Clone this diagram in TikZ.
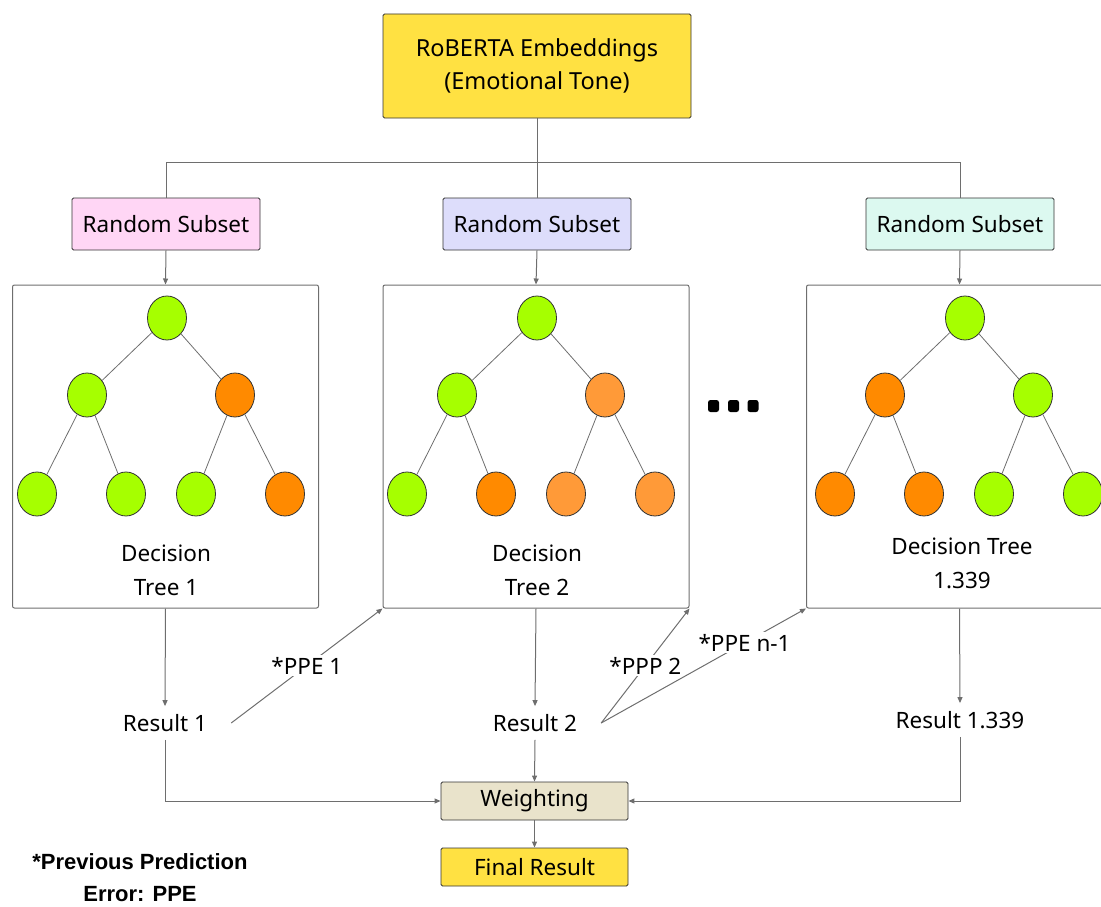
\documentclass[tikz,border=0pt]{standalone}
\usepackage{fontspec}
\setmainfont{Noto Sans}
\newfontfamily\notefont{Liberation Sans}
\usetikzlibrary{arrows.meta,positioning,shapes.geometric,calc}

\definecolor{ybox}{HTML}{FFE142}
\definecolor{pinkbox}{HTML}{FFD6F5}
\definecolor{lavbox}{HTML}{DDDDFB}
\definecolor{mintbox}{HTML}{DCF9F0}
\definecolor{beigebox}{HTML}{E9E3CB}
\definecolor{lime}{HTML}{A6FF00}
\definecolor{deeporange}{HTML}{FF8A00}
\definecolor{softorange}{HTML}{FF9A38}
\definecolor{linegray}{HTML}{6E6E6E}

\begin{document}
\begin{tikzpicture}[x=1pt,y=-1pt,
  every node/.style={font=\fontsize{22.5}{34}\selectfont},
  box/.style={draw=black!80,rounded corners=1.5pt,line width=0.9pt,
    inner sep=0pt,minimum height=52pt,align=center},
  treebox/.style={draw=linegray,rounded corners=2pt,line width=1pt,
    minimum width=306pt,minimum height=323pt},
  ball/.style={ellipse,draw=black!80,line width=0.8pt,
    minimum width=39pt,minimum height=44pt,inner sep=0pt},
  edge/.style={draw=linegray,line width=0.8pt},
  link/.style={draw=linegray,line width=1pt},
  arr/.style={link,-{Triangle[length=6pt,width=5pt]}},
  result/.style={inner xsep=24pt,inner ysep=8pt},
  ppe/.style={fill=white,inner sep=2pt}]

\useasboundingbox (0,0) rectangle (1101,907);

% embeddings and subsets
\node[box,fill=ybox,minimum width=308pt,minimum height=104pt,
  font=\fontsize{23.5}{33}\selectfont] (emb) at (537,66)
  {RoBERTA Embeddings\\(Emotional Tone)};
\node[box,fill=pinkbox,minimum width=188pt] (sub1) at (166,224) {Random Subset};
\node[box,fill=lavbox,minimum width=188pt] (sub2) at (537,224) {Random Subset};
\node[box,fill=mintbox,minimum width=188pt] (sub3) at (960,224) {Random Subset};

\draw[link] (emb.south) -- (sub2.north);
\draw[link] (sub1.north) |- ($(emb.south)+(0,44)$) -| (sub3.north);

% tree boxes
\node[treebox] (tree1) at (165.5,446.5) {};
\node[treebox] (tree2) at (536,446.5) {};
\node[treebox] (tree3) at (959.5,446.5) {};

\draw[arr] (sub1.south) -- (tree1.north);
\draw[arr] (sub2.south) -- (tree2.north);
\draw[arr] (sub3.south) -- (tree3.north);

% the trees
\foreach \t/\cx/\ca/\cb/\caa/\cab/\cba/\cbb in {
  1/167/lime/deeporange/lime/lime/lime/deeporange,
  2/537/lime/softorange/lime/deeporange/softorange/softorange,
  3/965/deeporange/lime/deeporange/deeporange/lime/lime} {
  \node[ball,fill=lime] (r\t) at (\cx,318) {};
  \node[ball,fill=\ca] (a\t) at (\cx-80,395) {};
  \node[ball,fill=\cb] (b\t) at (\cx+68,395) {};
  \node[ball,fill=\caa] (aa\t) at (\cx-130,494) {};
  \node[ball,fill=\cab] (ab\t) at (\cx-41,494) {};
  \node[ball,fill=\cba] (ba\t) at (\cx+29,494) {};
  \node[ball,fill=\cbb] (bb\t) at (\cx+118,494) {};
  \draw[edge] (r\t) -- (a\t);
  \draw[edge] (r\t) -- (b\t);
  \draw[edge] (a\t) -- (aa\t);
  \draw[edge] (a\t) -- (ab\t);
  \draw[edge] (b\t) -- (ba\t);
  \draw[edge] (b\t) -- (bb\t);
}

\node[align=center] (lab1) at (166,570) {Decision\\Tree 1};
\node[align=center] (lab2) at (537,570) {Decision\\Tree 2};
\node[align=center] (lab3) at (962,563) {Decision Tree\\1.339};

% more trees
\foreach \dx in {713.5,733.5,753}
  \fill[black,rounded corners=2.5pt] (\dx-5.5,400) rectangle (\dx+5.5,412);

% results
\node[result] (res1) at (165,723) {Result 1};
\node[result] (res2) at (535,723) {Result 2};
\node[result] (res3) at (960,720) {Result 1.339};

\draw[arr] (tree1.south) -- (res1.north);
\draw[arr] (tree2.south) -- (res2.north);
\draw[arr] (tree3.south) -- (res3.north);

\draw[arr] (res1.east) -- node[ppe] {*PPE 1} (tree2.south west);
\draw[arr] (res2.east) -- node[ppe] {*PPP 2} (tree2.south east);
\draw[arr] (res2.east) -- node[ppe,pos=0.7] {*PPE n-1} (tree3.south west);

% weighting
\node[box,fill=beigebox,minimum width=187pt,minimum height=38pt] (wt) at (534.5,801) {Weighting};
\node[box,fill=ybox,minimum width=187pt,minimum height=38pt] (final) at (534.5,867) {Final Result};

\draw[arr] (res1.south) |- (wt.west);
\draw[arr] (res2.south) -- (wt.north);
\draw[arr] (res3.south) |- (wt.east);
\draw[arr] (wt.south) -- (final.north);

\node[align=center,inner sep=0pt,font=\notefont\bfseries\fontsize{22}{32}\selectfont]
  (note) at (140,878) {*Previous Prediction\\Error: PPE};
\end{tikzpicture}
\end{document}
